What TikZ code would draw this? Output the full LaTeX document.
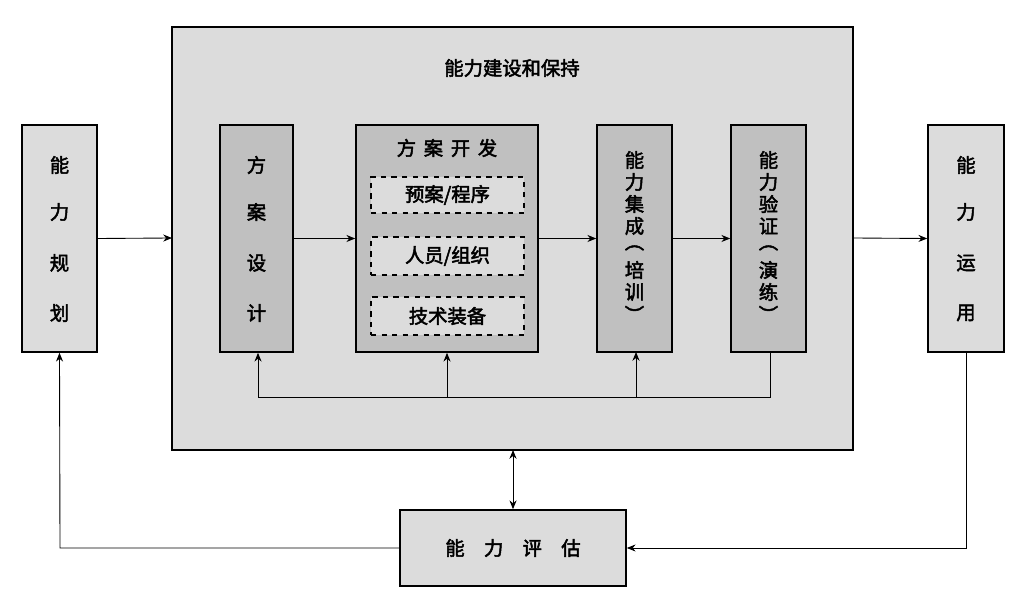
\documentclass[tikz,border=0pt]{standalone}
\usepackage{fontspec}
\setmainfont{Noto Sans CJK SC}[FakeBold=2.5]
\usetikzlibrary{arrows.meta}
\definecolor{lg}{HTML}{DCDCDC}
\definecolor{dg}{HTML}{C0C0C0}
\begin{document}
\begin{tikzpicture}[x=0.02cm,y=-0.02cm,
  box/.style={draw,line width=0.9pt,fill=lg},
  dbox/.style={draw,line width=0.9pt,fill=dg},
  dashbox/.style={draw,dashed,line width=0.8pt,fill=lg},
  arr/.style={-{Stealth[length=5pt,width=4pt]},line width=0.5pt},
  t/.style={font=\fontsize{11}{13}\selectfont,align=center},
  every node/.style={inner sep=0pt}]
\useasboundingbox (0,0) rectangle (1024,607);
\path[box] (172,27) rectangle (853,450);
\node[t] (title) at (512,68) {能力建设和保持};
\node[box,minimum width=75*0.02cm,minimum height=227*0.02cm] (plan) at (59.5,238.5) {};
\node[box,minimum width=76*0.02cm,minimum height=227*0.02cm] (use) at (966,238.5) {};
\node[dbox,minimum width=73*0.02cm,minimum height=227*0.02cm] (des) at (256.5,238.5) {};
\node[dbox,minimum width=182*0.02cm,minimum height=227*0.02cm] (dev) at (447,238.5) {};
\node[dbox,minimum width=75*0.02cm,minimum height=227*0.02cm] (int) at (634.5,238.5) {};
\node[dbox,minimum width=75*0.02cm,minimum height=227*0.02cm] (ver) at (768.5,238.5) {};
\node[box,minimum width=226*0.02cm,minimum height=76*0.02cm,t] (eval) at (513,548) {能\hspace{1em}力\hspace{1em}评\hspace{1em}估};
\node[t] (devt) at (447,148) {方\hspace{0.4em}案\hspace{0.4em}开\hspace{0.4em}发};
\node[dashbox,minimum width=153*0.02cm,minimum height=36*0.02cm,t] (d1) at (447.5,195) {预案/程序};
\node[dashbox,minimum width=153*0.02cm,minimum height=38*0.02cm,t] (d2) at (447.5,256) {人员/组织};
\node[dashbox,minimum width=153*0.02cm,minimum height=38*0.02cm,t] (d3) at (447.5,316) {技术装备};
\foreach \c/\y in {能/165,力/212,规/263,划/313} \node[t] at (59.5,\y) {\c};
\foreach \c/\y in {能/165,力/212,运/263,用/313} \node[t] at (966,\y) {\c};
\foreach \c/\y in {方/165,案/212,设/263,计/313} \node[t] at (256.5,\y) {\c};
\foreach \c [count=\i] in {能,力,集,成,︵,培,训,︶} \node[t] at (634.5,{138+\i*22}) {\c};
\foreach \c [count=\i] in {能,力,验,证,︵,演,练,︶} \node[t] at (768.5,{138+\i*22}) {\c};
\coordinate (a1) at (172,238);
\coordinate (a2) at (853,238);
\draw[arr] (plan.east) -- (a1);
\draw[arr] (a2) -- (use.west);
\draw[arr] (des.east) -- (dev.west);
\draw[arr] (dev.east) -- (int.west);
\draw[arr] (int.east) -- (ver.west);
\coordinate (f0) at (770,397);
\coordinate (f1) at (258,397);
\draw[line width=0.5pt] (ver.south -| f0) -- (f0) -- (f1);
\draw[arr] (f1) -- (f1 |- des.south);
\draw[arr] (447,397) -- (dev.south);
\draw[arr] (636,397) -- (636,352);
\coordinate (ob) at (513,450);
\draw[{Stealth[length=5pt,width=4pt]}-{Stealth[length=5pt,width=4pt]},line width=0.5pt] (ob) -- (eval.north);
\draw[arr] (use.south) -- (966,548) -- (eval.east);
\draw[arr] (eval.west) -- (60,548) -- (plan.south);
\end{tikzpicture}
\end{document}
